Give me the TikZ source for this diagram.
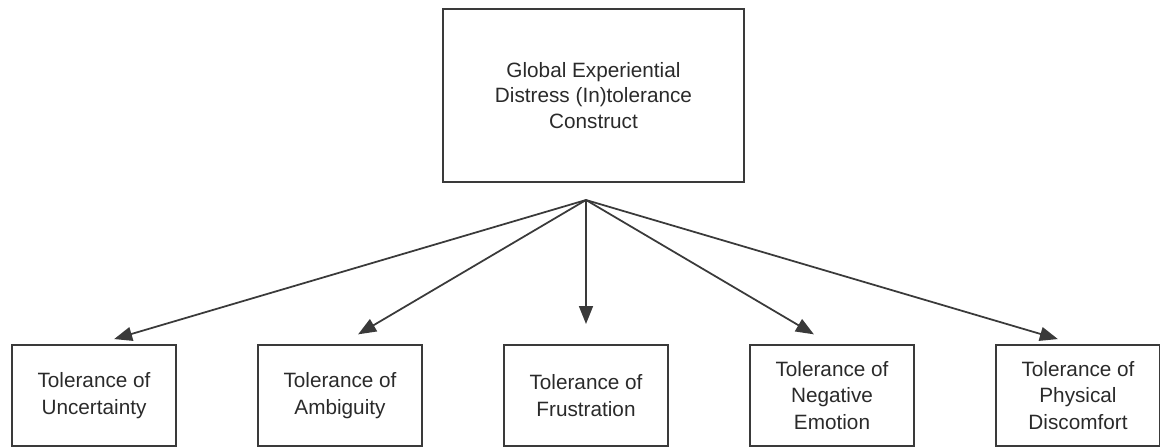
\documentclass[tikz,border=0pt]{standalone}
\usepackage{fontspec}
\setmainfont{Liberation Sans}
\usepackage{tikz}
\usetikzlibrary{arrows.meta}
\usetikzlibrary{positioning}
\definecolor{linegray}{HTML}{3A3A3A}
\definecolor{textgray}{HTML}{2A2A2A}

\begin{document}
\begin{tikzpicture}[
        node distance=1.64cm,
        construct/.style={rectangle, draw=linegray, line width=1.2pt, minimum width=6.02cm, minimum height=3.46cm, inner sep=0pt, align=center, text=textgray, font=\fontsize{11.8}{14.5}\selectfont},
        facet/.style={rectangle, draw=linegray, line width=1.2pt, outer sep=0pt, minimum width=3.28cm, minimum height=2.02cm, inner sep=0pt, align=center, text=textgray, font=\fontsize{11.8}{15}\selectfont},
        link/.style={draw=linegray, line width=1pt, -{Triangle[length=0.36cm,width=0.28cm]}, shorten >=0.42cm}
    ]
        \useasboundingbox (0,0) rectangle (23.2,-8.94);
        \node[construct] (Global) at (11.87,-1.91) {Global Experiential\\Distress (In)tolerance\\Construct};
        \node[facet] (Uncert) at (1.88,-7.91) {Tolerance of\\Uncertainty};
        \node[facet] (Ambig) [right=of Uncert] {Tolerance of\\Ambiguity};
        \node[facet] (Frust) [right=of Ambig] {Tolerance of\\Frustration};
        \node[facet] (NegEmo) [right=of Frust] {Tolerance of\\Negative\\Emotion};
        \node[facet] (PhysDis) [right=of NegEmo] {Tolerance of\\Physical\\Discomfort};
        \coordinate (Apex) at (Frust.north |- 0,-4.0);
        
        \path
            (Apex) edge[link] (Uncert.north)
            (Apex) edge[link] (Ambig.north)
            (Apex) edge[link] (Frust.north)
            (Apex) edge[link] (NegEmo.north)
            (Apex) edge[link] (PhysDis.north);
    \end{tikzpicture}
\end{document}
